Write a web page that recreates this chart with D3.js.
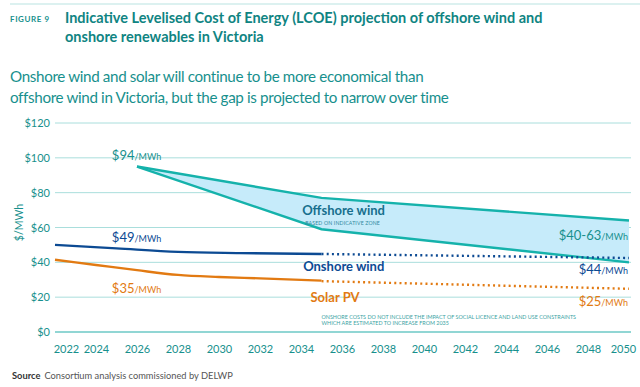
<!DOCTYPE html>
<html>
<head>
<meta charset="utf-8">
<script src="https://cdn.jsdelivr.net/npm/d3@7"></script>
<style>
  body { margin: 0; background: #fff; }
  svg { font-family: Lato, "Noto Sans", sans-serif; display: block; }
</style>
</head>
<body>
<svg width="640" height="387"></svg>
<script>
const yTicks = [0, 20, 40, 60, 80, 100, 120];
const xTicks = [2022, 2024, 2026, 2028, 2030, 2032, 2034, 2036, 2038, 2040, 2042, 2044, 2046, 2048, 2050];

const offshoreYears = [2026, 2035, 2050];
const offshoreHigh = [95, 77, 64];
const offshoreLow = [95, 59, 40];

const onshoreYears = [2022, 2025, 2028, 2031, 2035];
const onshoreVals = [50, 48, 46, 45.3, 44.8];
const onshoreDotYears = [2035, 2050];
const onshoreDotVals = [44.8, 42.5];

const solarYears = [2022, 2024, 2026, 2028, 2030, 2032, 2035];
const solarVals = [41.5, 38.5, 35.5, 32.8, 31.6, 30.8, 29.5];
const solarDotYears = [2035, 2050];
const solarDotVals = [29.2, 24.8];

const TEAL = '#15b2ab';
const TEXT = '#17908d';
const BLUE = '#0c4a93';
const ORANGE = '#e27a12';
const GRID = '#a9dedc';

const MARGIN = { left: 55, right: 11, top: 123, bottom: 55 };
const svg = d3.select('svg');
const W = 640 - MARGIN.left - MARGIN.right;
const H = 387 - MARGIN.top - MARGIN.bottom;

const x = d3.scaleLinear().domain([2022, 2050]).range([0, W]);
const y = d3.scaleLinear().domain([0, 120]).range([H, 0]);

// header
svg.append('line').attr('x1', 10).attr('x2', 640).attr('y1', 4).attr('y2', 4)
  .attr('stroke', '#b9e3e1').attr('stroke-width', 1);
svg.append('text').attr('x', 10).attr('y', 22).attr('fill', TEXT)
  .attr('font-size', 8).attr('font-weight', 'bold').attr('letter-spacing', 0.6)
  .text('FIGURE 9');
const title = svg.append('text').attr('fill', '#0f8482').attr('font-size', 14.5).attr('font-weight', 'bold');
title.append('tspan').attr('x', 65).attr('y', 23).text('Indicative Levelised Cost of Energy (LCOE) projection of offshore wind and');
title.append('tspan').attr('x', 65).attr('y', 42).text('onshore renewables in Victoria');
const sub = svg.append('text').attr('fill', TEXT).attr('font-size', 15.2).attr('letter-spacing', -0.35);
sub.append('tspan').attr('x', 10).attr('y', 82).text('Onshore wind and solar will continue to be more economical than');
sub.append('tspan').attr('x', 10).attr('y', 103).text('offshore wind in Victoria, but the gap is projected to narrow over time');

const g = svg.append('g').attr('transform', `translate(${MARGIN.left},${MARGIN.top})`);

// grid + y axis
g.append('g').selectAll('line').data(yTicks).join('line')
  .attr('x1', 0).attr('x2', W + 2)
  .attr('y1', d => y(d)).attr('y2', d => y(d))
  .attr('stroke', d => d === 0 ? '#6cc9c6' : GRID)
  .attr('stroke-width', d => d === 0 ? 1.6 : 1);

const yAxis = g.append('g').call(d3.axisLeft(y).tickValues(yTicks).tickSize(0).tickPadding(5).tickFormat(d => '$' + d));
yAxis.select('.domain').remove();
yAxis.selectAll('text').attr('fill', TEXT).attr('font-size', 11).attr('font-family', 'Lato, sans-serif');

g.append('text').attr('transform', `translate(-32,${y(60) - 5}) rotate(-90)`)
  .attr('text-anchor', 'middle').attr('fill', TEXT).attr('font-size', 10.5).text('$/MWh');

// x axis
const xAxis = g.append('g').attr('transform', `translate(0,${H})`)
  .call(d3.axisBottom(x).tickValues(xTicks).tickSize(0).tickPadding(13).tickFormat(d3.format('d')));
xAxis.select('.domain').remove();
xAxis.selectAll('text').attr('fill', TEXT).attr('font-size', 11).attr('font-family', 'Lato, sans-serif')
  .attr('dx', d => d === 2022 ? 11 : d === 2050 ? -6 : 0);

// offshore band
const band = offshoreYears.map((yr, i) => ({ yr, hi: offshoreHigh[i], lo: offshoreLow[i] }));
g.append('path').datum(band)
  .attr('d', d3.area().x(d => x(d.yr)).y0(d => y(d.lo)).y1(d => y(d.hi)))
  .attr('fill', '#c6ebfa');
const line = d3.line().x(d => x(d[0])).y(d => y(d[1]));
g.append('path').attr('d', line(d3.zip(offshoreYears, offshoreHigh)))
  .attr('fill', 'none').attr('stroke', TEAL).attr('stroke-width', 2.4);
g.append('path').attr('d', line(d3.zip(offshoreYears, offshoreLow)))
  .attr('fill', 'none').attr('stroke', TEAL).attr('stroke-width', 2.4);

// onshore wind
const curve = d3.line().curve(d3.curveMonotoneX).x(d => x(d[0])).y(d => y(d[1]));
g.append('path').attr('d', curve(d3.zip(onshoreYears, onshoreVals)))
  .attr('fill', 'none').attr('stroke', BLUE).attr('stroke-width', 2.4);
g.append('path').attr('d', line(d3.zip(onshoreDotYears, onshoreDotVals)))
  .attr('fill', 'none').attr('stroke', BLUE).attr('stroke-width', 2.4)
  .attr('stroke-dasharray', '2 3.2');

// solar
g.append('path').attr('d', curve(d3.zip(solarYears, solarVals)))
  .attr('fill', 'none').attr('stroke', ORANGE).attr('stroke-width', 2.4);
g.append('path').attr('d', line(d3.zip(solarDotYears, solarDotVals)))
  .attr('fill', 'none').attr('stroke', ORANGE).attr('stroke-width', 2.4)
  .attr('stroke-dasharray', '2 3.2');

// value labels
function priceLabel(px, py, big, color, anchor) {
  const t = g.append('text').attr('x', px).attr('y', py).attr('fill', color)
    .attr('text-anchor', anchor || 'start');
  t.append('tspan').attr('font-size', 13).text(big);
  t.append('tspan').attr('font-size', 9).text('/MWh');
}
priceLabel(x(2025.7) - 19, y(100) + 2, '$94', TEXT);
priceLabel(x(2025.7) - 19, y(50) - 3, '$49', BLUE);
priceLabel(x(2025.7) - 19, y(30) + 13, '$35', ORANGE);
priceLabel(W - 1, y(53.5) + 1, '$40-63', TEXT, 'end');
priceLabel(W - 1, y(33.2), '$44', BLUE, 'end');
priceLabel(W - 1, y(16) + 2, '$25', ORANGE, 'end');

g.append('text').attr('x', x(2034.3) - 5).attr('y', y(70) + 5).attr('fill', '#166f8d')
  .attr('font-size', 13).attr('font-weight', 'bold').text('Offshore wind');
g.append('text').attr('x', x(2034.3) - 2).attr('y', y(65) + 6).attr('fill', '#2f8aa0')
  .attr('font-size', 5.2).attr('letter-spacing', 0.15).text('BASED ON INDICATIVE ZONE');
g.append('text').attr('x', x(2034.3) - 4).attr('y', y(36) + 2).attr('fill', BLUE)
  .attr('font-size', 13).attr('font-weight', 'bold').text('Onshore wind');
g.append('text').attr('x', x(2035) - 11).attr('y', y(20) + 5).attr('fill', ORANGE)
  .attr('font-size', 13).attr('font-weight', 'bold').text('Solar PV');

const note = g.append('text').attr('fill', '#3aa3a3').attr('font-size', 5.4);
note.append('tspan').attr('x', x(2035)).attr('y', y(7.5)).text('ONSHORE COSTS DO NOT INCLUDE THE IMPACT OF SOCIAL LICENCE AND LAND USE CONSTRAINTS');
note.append('tspan').attr('x', x(2035)).attr('y', y(4)).text('WHICH ARE ESTIMATED TO INCREASE FROM 2035');

// source
const src = svg.append('text').attr('x', 12).attr('y', 379).attr('font-size', 9.3);
src.append('tspan').attr('fill', '#333').attr('font-weight', 'bold').text('Source');
src.append('tspan').attr('fill', '#555').attr('dx', 4).text('Consortium analysis commissioned by DELWP');
</script>
</body>
</html>
